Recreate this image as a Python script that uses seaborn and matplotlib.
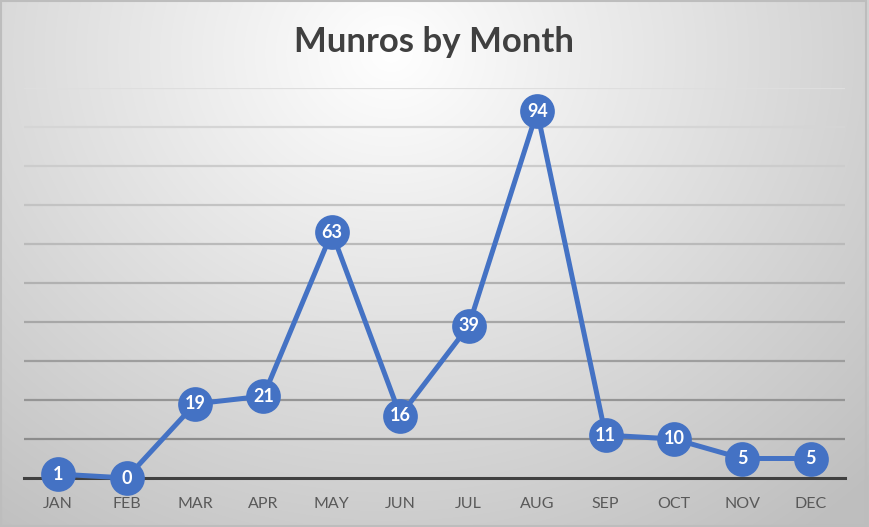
import numpy as np
import pandas as pd
import matplotlib
matplotlib.use("Agg")
import matplotlib.pyplot as plt
import seaborn as sns

months = ["JAN", "FEB", "MAR", "APR", "MAY", "JUN", "JUL", "AUG", "SEP", "OCT", "NOV", "DEC"]
munros = [1, 0, 19, 21, 63, 16, 39, 94, 11, 10, 5, 5]
title = "Munros by Month"

sns.set_theme(style="white")
plt.rcParams['font.family'] = ['Lato', 'DejaVu Sans']

W, H = 869, 527
fig = plt.figure(figsize=(W / 100, H / 100), dpi=100)

# radial gradient background
bg = fig.add_axes([0, 0, 1, 1], zorder=0)
yy, xx = np.mgrid[0:H, 0:W]
cx, cy = 0.45 * W, 0.1 * H
d = np.sqrt(((xx - cx) / (0.75 * W)) ** 2 + ((yy - cy) / (1.1 * H)) ** 2)
val = np.clip(255 - 62 * d, 190, 255) / 255.0
bg.imshow(np.dstack([val, val, val]), aspect="auto", extent=[0, 1, 0, 1], origin="upper")
bg.set_xlim(0, 1); bg.set_ylim(0, 1)
bg.axis("off")
bg.add_patch(plt.Rectangle((0.0006, 0.001), 0.9965, 0.997, fill=False, ec="#bdbdbd", lw=1.5,
                           transform=bg.transAxes))

ax = fig.add_axes([24 / W, 1 - 478 / H, (845 - 24) / W, (478 - 88) / H], zorder=1)
ax.patch.set_alpha(0)

df = pd.DataFrame({"month": months, "munros": munros})
df["x"] = np.arange(len(months))
sns.lineplot(data=df, x="x", y="munros", ax=ax, color="#4472C4", lw=3.6,
             marker="o", markersize=25, markeredgewidth=0, clip_on=False, zorder=3)
for line in ax.lines:
    line.set_clip_on(False)

for xi, v in zip(df["x"], munros):
    ax.text(xi, v, str(v), ha="center", va="center", color="white", fontsize=13,
            fontweight="bold", zorder=4, clip_on=False)

ax.set_xlim(-0.5, len(months) - 0.5)
ax.set_ylim(0, 100)
ax.set_yticks(np.arange(10, 101, 10))
ax.set_yticklabels([])
ax.tick_params(axis="y", length=0)
ax.set_xticks(df["x"])
ax.set_xticklabels(months, color="#595959", fontsize=11.5)
ax.tick_params(axis="x", length=0, pad=14)
ax.set_xlabel("")
ax.set_ylabel("")
for s in ["left", "right", "top"]:
    ax.spines[s].set_visible(False)
ax.spines["bottom"].set_color("#404040")
ax.spines["bottom"].set_linewidth(2.2)
ax.spines["bottom"].set_zorder(2.5)

ax.grid(axis="y", lw=1.6)
ax.set_axisbelow(True)
gls = ax.yaxis.get_gridlines()
n = len(gls)
for i, g in enumerate(gls):
    t = i / max(n - 1, 1)
    c = 0.55 + 0.32 * t
    g.set_color((c, c, c))

fig.text(0.5, 1 - 42 / H, title, ha="center", va="center", fontsize=25,
         fontweight="bold", color="#404040")

fig.savefig("out.png", dpi=100)
